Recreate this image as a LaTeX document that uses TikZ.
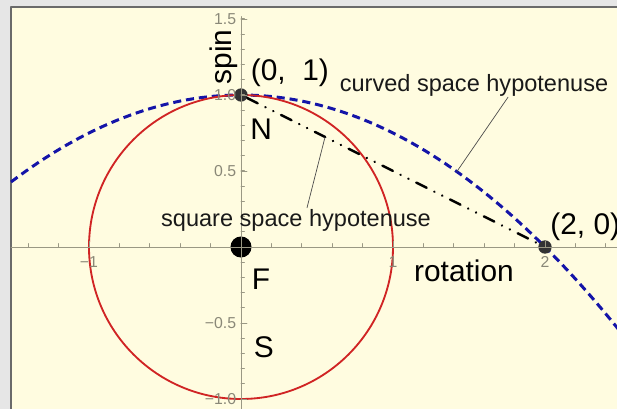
\documentclass[tikz,border=0pt]{standalone}
\usepackage{fontspec}
\setmainfont{Liberation Sans}
\usepackage{xcolor}
\usetikzlibrary{calc}
\definecolor{outerbg}{HTML}{E6E6E6}
\definecolor{plotbg}{HTML}{FFFCE0}
\definecolor{frameline}{HTML}{6A6A6A}
\definecolor{axisgray}{HTML}{9A9884}
\definecolor{ticktext}{HTML}{8A8878}
\definecolor{circlered}{HTML}{D02424}
\definecolor{curveblue}{HTML}{1414A8}
\definecolor{dotgray}{HTML}{333333}
\tikzset{
every picture/.style={line cap=round,line join=round},
axis line/.style={draw=axisgray, line width=0.55pt},
tick label/.style={font=\fontsize{9}{10}\selectfont, text=ticktext, inner sep=0pt},
big label/.style={font=\fontsize{17}{20}\selectfont, text=black, inner sep=0pt},
mid label/.style={font=\fontsize{13.4}{16}\selectfont, text=black!90, inner sep=0pt},
unit circle/.style={draw=circlered, line width=1.05pt},
curved hyp/.style={draw=curveblue, line width=1.7pt, line cap=butt, dash pattern=on 4.6pt off 2.8pt},
square hyp/.style={draw=black, line width=1.4pt, dash pattern=on 6.6pt off 4.9pt on 0.1pt off 4.9pt on 0.1pt off 4.9pt},
leader/.style={draw=black!70, line width=0.4pt},
small dot/.style={circle, fill=dotgray, inner sep=0pt, minimum size=7.6pt},
big dot/.style={circle, fill=black, inner sep=0pt, minimum size=12pt}
}
\begin{document}
\begin{tikzpicture}[x=3.04cm,y=3.04cm]
\useasboundingbox (-1.5855,-1.0658) rectangle (2.4737,1.625);
\clip (-1.5855,-1.0658) rectangle (2.4737,1.625);
\fill[outerbg] (-1.5855,-1.0658) rectangle (2.4737,1.625);
\filldraw[fill=plotbg,draw=frameline,line width=0.6pt] (-1.513,-1.3) rectangle (2.7,1.579);
% curves
\draw[curved hyp] plot[domain=-1.513:2.6,samples=90] (\x,{1-\x*\x/4});
\draw[unit circle] (0,0) circle (1);
% points
\node[small dot] (top) at (0,1) {};
\node[big dot] (origin) at (0,0) {};
\node[small dot] (right) at (2,0) {};
\draw[square hyp] (top) -- (right);
% axes
\draw[axis line] (-1.513,0) -- (2.7,0);
\draw[axis line] (0,-1.3) -- (0,1.515);
\foreach \x in {-1.4,-1.2,...,2.45} {\draw[axis line] (\x,0) -- ++(0,0.022);}
\foreach \x in {-1,1,2} {\draw[axis line] (\x,0) -- ++(0,0.038);}
\foreach \y in {-1.0,-0.9,...,1.55} {\draw[axis line] (0,\y) -- ++(0.022,0);}
\foreach \y in {-1,-0.5,0.5,1,1.5} {\draw[axis line] (0,\y) -- ++(0.038,0);}
\foreach \x/\t [count=\i] in {-1/−1,1/1,2/2} {\node[tick label] (xtick\i) at (\x,-0.099) {\t};}
\foreach \y/\t [count=\i] in {-1/−1.0,-0.5/−0.5,0.5/0.5,1/1.0,1.5/1.5} {\node[tick label,anchor=east] (ytick\i) at (-0.03,\y) {\t};}
% labels
\node[big label,rotate=90] (spinlbl) at (-0.112,1.25) {spin};
\node[big label] (toplbl) at (0.322,1.145) {(0,\ \ 1)};
\node[big label,anchor=west] (rightlbl) at (2.033,0.132) {(2, 0)};
\node[big label] (nlbl) at (0.132,0.776) {N};
\node[big label] (flbl) at (0.132,-0.211) {F};
\node[big label] (slbl) at (0.151,-0.658) {S};
\node[big label,anchor=base] (rotlbl) at (1.467,-0.224) {rotation};
\node[mid label,anchor=base] (curvedlbl) at (1.533,1.02) {curved space hypotenuse};
\node[mid label,anchor=base] (sqlbl) at (0.362,0.134) {square space hypotenuse};
% leaders
\coordinate (curvefoot) at (1.42,0.496);
\coordinate (sqfoot) at ($(top)!0.2765!(right)$);
\draw[leader] ([xshift=0.68cm]curvedlbl.south) -- (curvefoot);
\draw[leader] ([xshift=0.22cm,yshift=0.03cm]sqlbl.north) -- (sqfoot);
\end{tikzpicture}
\end{document}
